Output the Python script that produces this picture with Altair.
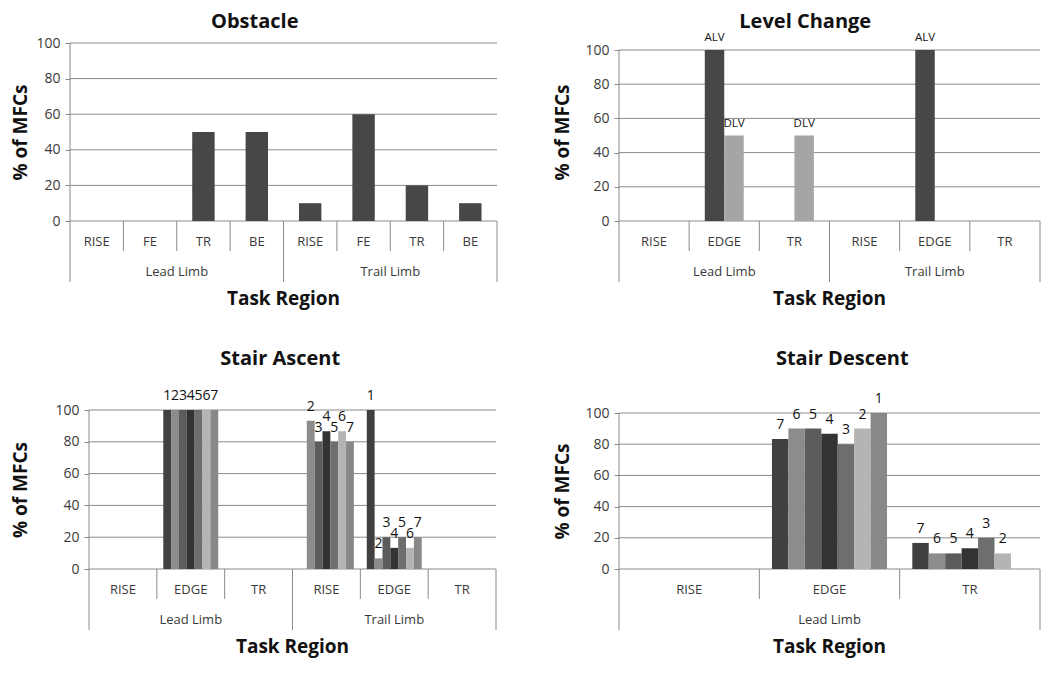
import altair as alt
import pandas as pd

FONT = "Open Sans"
GRID = "#8a8a8a"
INK = "#3a3a3a"
BLACK = "#111111"

# ---------------- data ----------------
y_ticks = [0, 20, 40, 60, 80, 100]

# Obstacle
obs_limbs = ["Lead Limb"] * 4 + ["Trail Limb"] * 4
obs_regions = ["RISE", "FE", "TR", "BE", "RISE", "FE", "TR", "BE"]
obs_series = [""]
obs_values = [0, 0, 50, 50, 10, 60, 20, 10]

# Level Change
lc_limbs = ["Lead Limb"] * 3 + ["Trail Limb"] * 3
lc_regions = ["RISE", "EDGE", "TR", "RISE", "EDGE", "TR"]
lc_series = ["ALV", "DLV"]
lc_alv = [0, 100, 0, 0, 100, 0]
lc_dlv = [0, 50, 50, 0, 0, 0]

# Stair Ascent
sa_limbs = ["Lead Limb"] * 3 + ["Trail Limb"] * 3
sa_regions = ["RISE", "EDGE", "TR", "RISE", "EDGE", "TR"]
sa_series = ["1", "2", "3", "4", "5", "6", "7"]
sa_1 = [0, 100, 0, 0, 100, 0]
sa_2 = [0, 100, 0, 93.3, 6.7, 0]
sa_3 = [0, 100, 0, 80, 20, 0]
sa_4 = [0, 100, 0, 86.7, 13.3, 0]
sa_5 = [0, 100, 0, 80, 20, 0]
sa_6 = [0, 100, 0, 86.7, 13.3, 0]
sa_7 = [0, 100, 0, 80, 20, 0]

# Stair Descent
sd_limbs = ["Lead Limb"] * 3
sd_regions = ["RISE", "EDGE", "TR"]
sd_series = ["7", "6", "5", "4", "3", "2", "1"]
sd_7 = [0, 83.3, 16.7]
sd_6 = [0, 90, 10]
sd_5 = [0, 90, 10]
sd_4 = [0, 86.7, 13.3]
sd_3 = [0, 80, 20]
sd_2 = [0, 90, 10]
sd_1 = [0, 100, 0]

GRAYS7 = ["#404040", "#8c8c8c", "#5c5c5c", "#333333", "#6e6e6e", "#b4b4b4", "#888888"]


def panel(title, regions, limbs, series, values, colors, frac, width, height,
          label_size, show_labels, ytitle_pad, title_offset, title_dx, label_dy,
          lead=0, top_lead=0):
    """lead / top_lead: blank pixels left of the y axis / above 100 inside the view."""
    n = len(regions)
    k = len(series)
    bw = frac / k
    rows = []
    for si, (s, vals) in enumerate(zip(series, values)):
        for ci, v in enumerate(vals):
            x0 = ci + (1 - frac) / 2 + si * bw
            rows.append({"series": s, "col": colors[si], "v": v, "b": 0,
                         "x0": x0, "x1": x0 + bw, "xc": x0 + bw / 2,
                         "lab": s if (show_labels and v > 0) else ""})
    bars = pd.DataFrame(rows)
    cats = pd.DataFrame({"x": [i + 0.5 for i in range(n)], "t": regions})
    groups = []
    start = 0
    for i in range(1, n + 1):
        if i == n or limbs[i] != limbs[start]:
            groups.append((start, i, limbs[start]))
            start = i
    grp = pd.DataFrame({"x": [(a + b) / 2 for a, b, _ in groups],
                        "t": [g for _, _, g in groups]})
    long_x = sorted({a for a, _, _ in groups} | {b for _, b, _ in groups})
    short_x = [i for i in range(1, n) if i not in long_x]
    grid = pd.DataFrame({"g": y_ticks, "a": [0] * len(y_ticks), "z": [n] * len(y_ticks)})
    spine = pd.DataFrame({"a": [0], "lo": [min(y_ticks)], "hi": [max(y_ticks)]})
    ttl = pd.DataFrame({"x": [n / 2], "t": ["Task Region"]})

    plot_w = width - lead
    xs = alt.Scale(domain=[-lead * n / plot_w, n], nice=False, zero=False)

    def X(f):
        return alt.X(f, type="quantitative", scale=xs, axis=None)

    ymax = max(y_ticks) * height / (height - top_lead)
    ys = alt.Scale(domain=[0, ymax], nice=False)
    ya = alt.Axis(values=y_ticks, title="% of MFCs", grid=False, domain=False,
                  offset=-lead, tickColor=GRID, tickSize=5,
                  labelFont=FONT, labelFontSize=14, labelColor=INK, labelPadding=5,
                  titleFont=FONT, titleFontSize=19, titleFontWeight="bold",
                  titleColor=BLACK, titlePadding=ytitle_pad)

    def Y(f):
        return alt.Y(f, type="quantitative", scale=ys, axis=ya)

    layers = [
        alt.Chart(grid).mark_rule(color=GRID, strokeWidth=1).encode(
            x=X("a"), x2="z", y=Y("g")),
        alt.Chart(spine).mark_rule(color=GRID, strokeWidth=1).encode(
            x=X("a"), y=Y("lo"), y2="hi"),
        alt.Chart(bars).transform_filter("datum.v > 0").mark_bar().encode(
            x=X("x0"), x2="x1", y=Y("v"), y2="b",
            color=alt.Color("col:N", scale=None)),
    ]
    if show_labels:
        layers.append(
            alt.Chart(bars).transform_filter("datum.lab != ''").mark_text(
                font=FONT, fontSize=label_size, color=BLACK, baseline="alphabetic", dy=label_dy
            ).encode(x=X("xc"), y=Y("v"), text="lab:N")
        )
    layers.append(
        alt.Chart(pd.DataFrame({"x": long_x})).mark_rule(color=GRID, strokeWidth=1).encode(
            x=X("x"), y=alt.value(height), y2=alt.value(height + 61))
    )
    if short_x:
        layers.append(
            alt.Chart(pd.DataFrame({"x": short_x})).mark_rule(color=GRID, strokeWidth=1).encode(
                x=X("x"), y=alt.value(height), y2=alt.value(height + 30))
        )
    layers.append(
        alt.Chart(cats).mark_text(font=FONT, fontSize=13, color=INK, baseline="middle").encode(
            x=X("x"), y=alt.value(height + 21), text="t:N")
    )
    layers.append(
        alt.Chart(grp).mark_text(font=FONT, fontSize=13, color=INK, baseline="middle").encode(
            x=X("x"), y=alt.value(height + 51), text="t:N")
    )
    layers.append(
        alt.Chart(ttl).mark_text(font=FONT, fontSize=19, fontWeight="bold", color=BLACK,
                                 baseline="middle").encode(
            x=X("x"), y=alt.value(height + 78), text="t:N")
    )
    return alt.layer(*layers).properties(
        width=width, height=height,
        title=alt.TitleParams(title, font=FONT, fontSize=20, fontWeight="bold",
                              color=BLACK, anchor="middle", frame="bounds",
                              offset=title_offset, dx=title_dx),
    )


p1 = panel("Obstacle", obs_regions, obs_limbs, obs_series, [obs_values], ["#474747"],
           0.42, 427, 178, 12, False, 5, 4, 0, -9)
p2 = panel("Level Change", lc_regions, lc_limbs, lc_series, [lc_alv, lc_dlv],
           ["#474747", "#a5a5a5"], 0.555, 421, 178, 11.5, True, 12, 0, 8, -9,
           top_lead=7)
p3 = panel("Stair Ascent", sa_regions, sa_limbs, sa_series,
           [sa_1, sa_2, sa_3, sa_4, sa_5, sa_6, sa_7], GRAYS7,
           0.81, 426, 159, 14, True, 24, 20, 26, -10, lead=19)
p4 = panel("Stair Descent", sd_regions, sd_limbs, sd_series,
           [sd_7, sd_6, sd_5, sd_4, sd_3, sd_2, sd_1], GRAYS7,
           0.82, 421, 156, 14, True, 12, 23, 45, -10)

chart = alt.concat(
    p1, p2, p3, p4, columns=2, align="none",
    spacing={"row": 40, "column": 55},
).properties(
    padding={"left": 3, "top": 3, "right": 0, "bottom": 4}
).configure_view(stroke=None)

chart.save("out.html", embed_options={"renderer": "svg", "actions": False})
